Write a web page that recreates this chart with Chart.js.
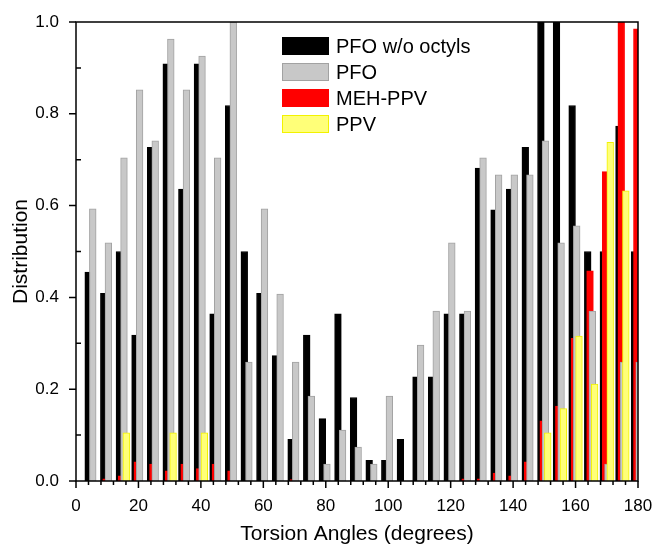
<!DOCTYPE html>
<html lang="en">
<head>
  <meta charset="UTF-8">
  <title>Torsion Angle Distribution</title>
  <script src="https://cdn.jsdelivr.net/npm/chart.js"></script>
  <style>
    body { margin: 0; background: #fff; }
    #wrap { width: 654px; height: 547px; }
  </style>
</head>
<body>
  <div id="wrap"><canvas id="torsionChart"></canvas></div>

  <script>
    // bin centres (degrees)
    const angles = [5, 10, 15, 20, 25, 30, 35, 40, 45, 50, 55, 60, 65, 70, 75, 80, 85, 90,
                    95, 100, 105, 110, 115, 120, 125, 130, 135, 140, 145, 150, 155, 160, 165, 170, 175, 180];

    const pfoNoOctyls = [0.455, 0.409, 0.5, 0.318, 0.727, 0.909, 0.636, 0.909, 0.364, 0.818, 0.5, 0.409,
                         0.273, 0.091, 0.318, 0.136, 0.364, 0.182, 0.045, 0.045, 0.091, 0.227, 0.227, 0.364,
                         0.364, 0.682, 0.591, 0.636, 0.727, 1.0, 1.0, 0.818, 0.5, 0.5, 0.773, 0.5];

    const pfo = [0.593, 0.519, 0.704, 0.852, 0.741, 0.963, 0.852, 0.926, 0.704, 1.0, 0.259, 0.593,
                 0.407, 0.259, 0.185, 0.037, 0.111, 0.074, 0.037, 0.185, 0, 0.296, 0.37, 0.519,
                 0.37, 0.704, 0.667, 0.667, 0.667, 0.741, 0.519, 0.556, 0.37, 0.037, 0.259, 0.259];

    const mehPpv = [0, 0.005, 0.011, 0.042, 0.037, 0.022, 0.037, 0.027, 0.037, 0.022, 0, 0,
                    0, 0.003, 0, 0, 0, 0, 0, 0, 0, 0, 0, 0,
                    0.005, 0.005, 0.017, 0.011, 0.042, 0.131, 0.163, 0.311, 0.458, 0.674, 1.0, 0.985];

    const ppv = [0, 0, 0.105, 0, 0, 0.105, 0, 0.105, 0, 0, 0, 0,
                 0, 0, 0, 0, 0, 0, 0, 0, 0, 0, 0, 0,
                 0, 0, 0, 0, 0, 0.105, 0.158, 0.316, 0.211, 0.738, 0.632, 0];

    const xTicks = [0, 20, 40, 60, 80, 100, 120, 140, 160, 180];
    const yTicks = [0, 0.2, 0.4, 0.6, 0.8, 1.0];

    Chart.defaults.font.family = '"Liberation Sans", Arial, sans-serif';
    Chart.defaults.color = '#000';

    // bars of a group overlap like in Origin, so each series is shifted a bit
    function series(label, values, shift, fill, edge, order) {
      return {
        label: label,
        data: angles.map((a, i) => ({ x: a + shift, y: values[i] })),
        backgroundColor: fill,
        borderColor: edge,
        borderWidth: 1,
        borderSkipped: 'start',
        barThickness: 6.7,
        grouped: false,
        order: order
      };
    }

    const frameAndTicks = {
      id: 'frameAndTicks',
      afterDatasetsDraw(chart) {
        const { ctx, chartArea: a, scales: { x, y } } = chart;
        ctx.save();
        ctx.strokeStyle = '#000';
        ctx.lineWidth = 1.5;
        ctx.strokeRect(a.left, a.top, a.right - a.left, a.bottom - a.top);
        ctx.beginPath();
        for (let v = 0; v <= 180; v += 4) {
          const px = x.getPixelForValue(v);
          ctx.moveTo(px, a.bottom);
          ctx.lineTo(px, a.bottom + (xTicks.includes(v) ? 7 : 4));
        }
        for (let i = 0; i <= 10; i++) {
          const py = y.getPixelForValue(i / 10);
          if (i % 2 === 0) {
            ctx.moveTo(a.left - 7, py);
            ctx.lineTo(a.left, py);
          } else {
            ctx.moveTo(a.left, py);
            ctx.lineTo(a.left + 5, py);
          }
        }
        ctx.stroke();
        ctx.restore();
      }
    };

    const boxLegend = {
      id: 'boxLegend',
      afterDraw(chart) {
        const ctx = chart.ctx;
        ctx.save();
        ctx.font = '20px "Liberation Sans", Arial, sans-serif';
        ctx.textBaseline = 'middle';
        chart.data.datasets.forEach((ds, i) => {
          const top = 37 + i * 26;
          ctx.fillStyle = ds.backgroundColor;
          ctx.fillRect(282, top, 47, 18);
          ctx.strokeStyle = ds.borderColor;
          ctx.lineWidth = 1;
          ctx.strokeRect(282.5, top + 0.5, 46, 17);
          ctx.fillStyle = '#000';
          ctx.fillText(ds.label, 336, top + 10);
        });
        ctx.restore();
      }
    };

    const ctx = document.getElementById('torsionChart').getContext('2d');
    const chart = new Chart(ctx, {
      type: 'bar',
      data: {
        datasets: [
          series('PFO w/o octyls', pfoNoOctyls, -1.1, '#000000', '#000000', 4),
          series('PFO', pfo, 0.37, '#c8c8c8', '#a2a2a2', 2),
          series('MEH-PPV', mehPpv, -0.37, '#ff0000', '#ff0000', 3),
          series('PPV', ppv, 1.1, '#ffff78', '#f2f200', 1)
        ]
      },
      options: {
        responsive: true,
        maintainAspectRatio: false,
        animation: false,
        layout: { padding: { top: 22, right: 16, left: 0, bottom: 0 } },
        plugins: {
          legend: { display: false },
          tooltip: { enabled: false }
        },
        scales: {
          x: {
            type: 'linear',
            min: 0,
            max: 180,
            offset: false,
            grid: { display: false, offset: false },
            border: { display: false },
            afterBuildTicks: (scale) => { scale.ticks = xTicks.map(v => ({ value: v })); },
            afterFit: (scale) => {
              scale.height = 66;
              scale.paddingLeft = 0;
              scale.paddingRight = 0;
            },
            ticks: {
              padding: 7,
              maxRotation: 0,
              font: { size: 17 },
              callback: (v) => v
            },
            title: {
              display: true,
              text: 'Torsion Angles (degrees)',
              font: { size: 21 },
              padding: { top: 0, bottom: 0 }
            }
          },
          y: {
            min: 0,
            max: 1,
            grid: { display: false },
            border: { display: false },
            afterBuildTicks: (scale) => { scale.ticks = yTicks.map(v => ({ value: v })); },
            afterFit: (scale) => {
              scale.width = 76;
              scale.paddingTop = 0;
              scale.paddingBottom = 0;
            },
            ticks: {
              padding: 9,
              font: { size: 17 },
              callback: (v) => v.toFixed(1)
            },
            title: {
              display: true,
              text: 'Distribution',
              font: { size: 21 },
              padding: { top: 9, bottom: 0 }
            }
          }
        }
      },
      plugins: [frameAndTicks, boxLegend]
    });
  </script>
</body>
</html>
